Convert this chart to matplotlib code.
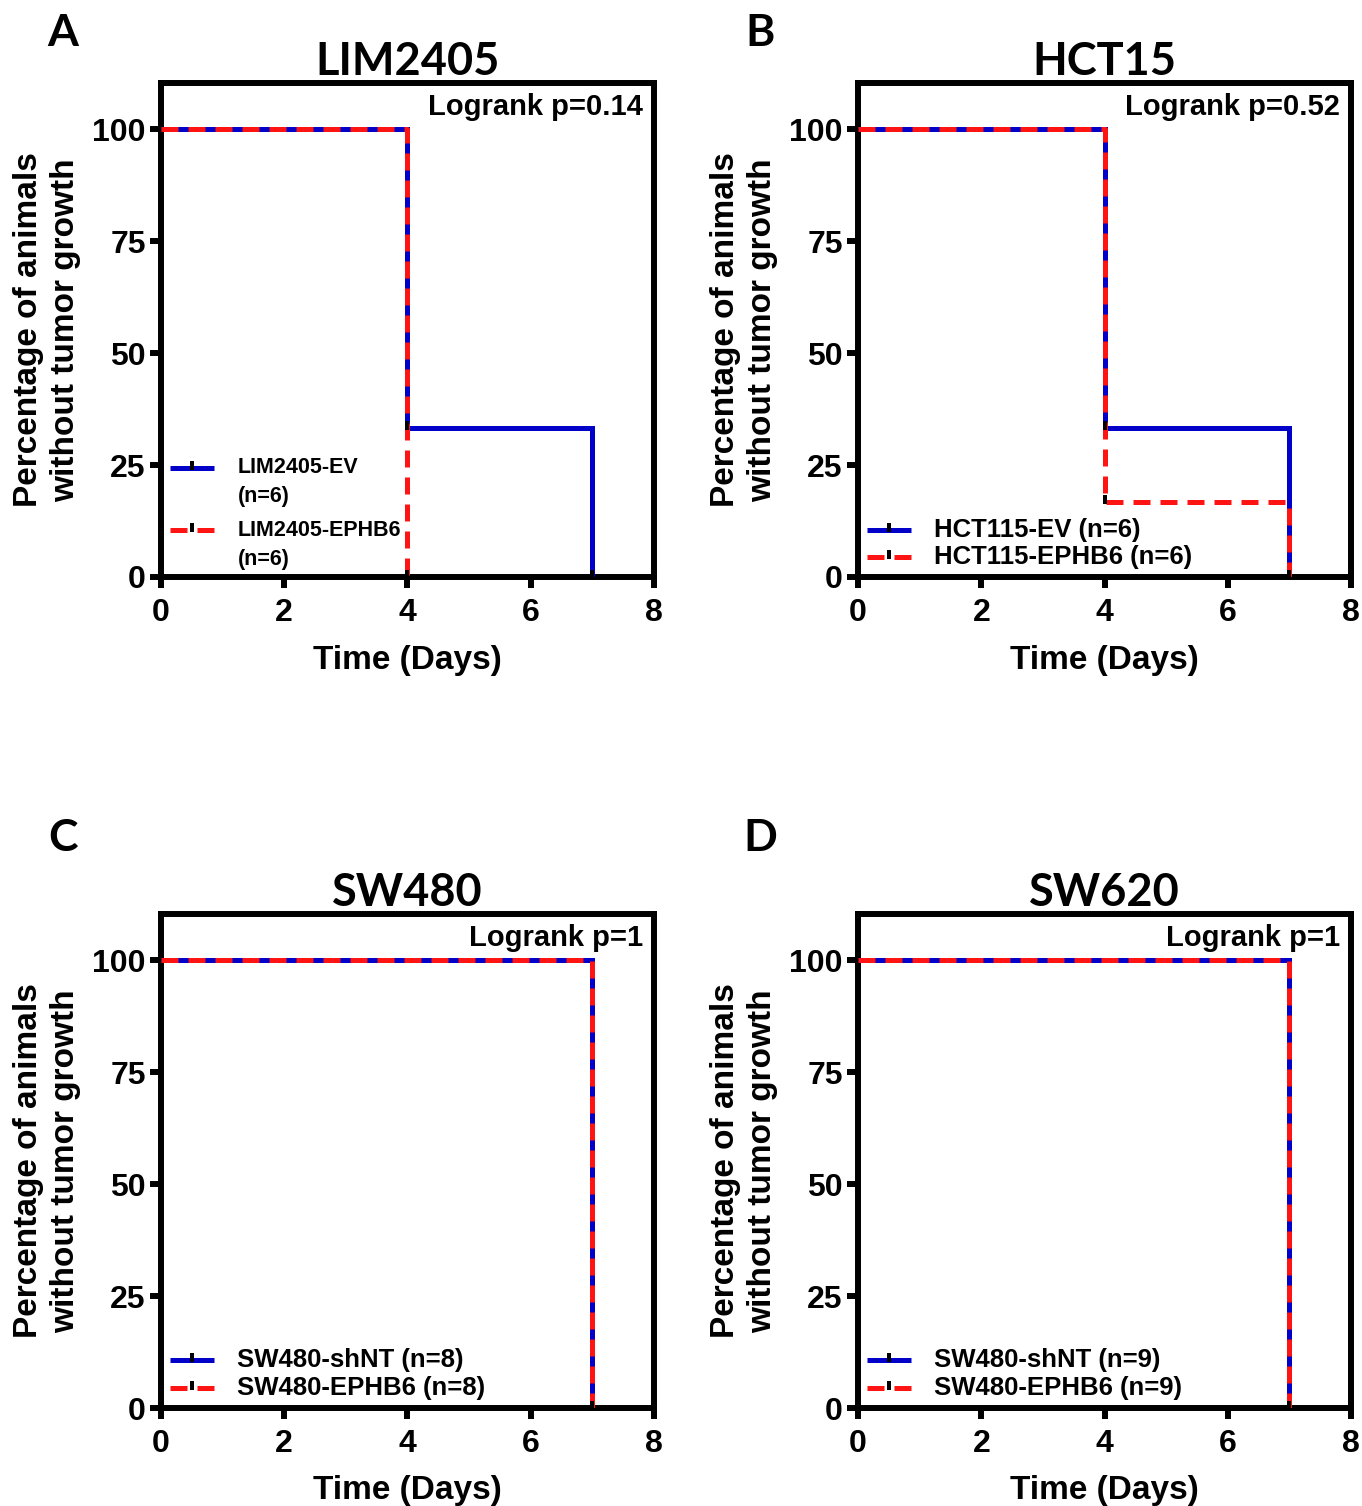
import numpy as np
import matplotlib
matplotlib.use("Agg")
import matplotlib.pyplot as plt
from matplotlib.path import Path

plt.rcParams['font.family'] = ['Liberation Sans', 'DejaVu Sans']
plt.rcParams['font.weight'] = 'bold'

# survival curves: event times (days) and % animals without tumor growth
panel_letters = ['A', 'B', 'C', 'D']
panel_titles = ['LIM2405', 'HCT15', 'SW480', 'SW620']
logrank_p = ['0.14', '0.52', '1', '1']

ctrl_labels = [['LIM2405-EV', '(n=6)'], ['HCT115-EV (n=6)'], ['SW480-shNT (n=8)'], ['SW480-shNT (n=9)']]
ephb6_labels = [['LIM2405-EPHB6', '(n=6)'], ['HCT115-EPHB6 (n=6)'], ['SW480-EPHB6 (n=8)'], ['SW480-EPHB6 (n=9)']]

ctrl_days = [[0, 4, 7], [0, 4, 7], [0, 7], [0, 7]]
ctrl_pct = [[100, 33.33, 0], [100, 33.33, 0], [100, 0], [100, 0]]
ephb6_days = [[0, 4], [0, 4, 7], [0, 7], [0, 7]]
ephb6_pct = [[100, 0], [100, 16.67, 0], [100, 0], [100, 0]]

xticks = [0, 2, 4, 6, 8]
yticks = [0, 25, 50, 75, 100]

W, H = 1362, 1506
fig = plt.figure(figsize=(W / 100, H / 100), dpi=100)

# axes boxes in pixels: left, top, right, bottom
boxes = [(161, 83, 654, 577), (858, 83, 1351, 577),
         (161, 914, 654, 1408), (858, 914, 1351, 1408)]
letter_pos = [(63, 33), (760, 33), (63, 838), (760, 838)]

blue = '#0000c8'
red = '#ff1414'

# censor tick: small block sitting on top of the curve
tick_mark = Path([(-0.35, -0.3), (0.35, -0.3), (0.35, 1.0), (-0.35, 1.0), (-0.35, -0.3)],
                 [Path.MOVETO, Path.LINETO, Path.LINETO, Path.LINETO, Path.CLOSEPOLY])
mk = dict(marker=tick_mark, ms=10, mec='black', mfc='black', mew=0)

# legend layout per panel (axes fraction): handle rows and font size
leg_rows = [(0.221, 0.095), (0.095, 0.040), (0.097, 0.040), (0.097, 0.040)]
leg_size = [15.5, 18.5, 18.5, 18.5]
leg_step = [0.059, 0, 0, 0]

for i in range(4):
    l, t, r, b = boxes[i]
    ax = fig.add_axes([l / W, 1 - b / H, (r - l) / W, (b - t) / H])

    ax.step(ctrl_days[i], ctrl_pct[i], where='post', color=blue, lw=3.6,
            solid_capstyle='butt', solid_joinstyle='miter', zorder=3)
    ax.step(ephb6_days[i], ephb6_pct[i], where='post', color=red, lw=3.6,
            dashes=(3.4, 2.0), dash_capstyle='butt', zorder=4)
    ax.plot(ctrl_days[i][1:], ctrl_pct[i][1:], ls='none', zorder=5, clip_on=False, **mk)
    ax.plot(ephb6_days[i][1:], ephb6_pct[i][1:], ls='none', zorder=5, clip_on=False, **mk)

    ax.set_xlim(0, 8)
    ax.set_ylim(0, 110.3)
    ax.set_xticks(xticks)
    ax.set_yticks(yticks)
    ax.tick_params(direction='out', length=8, width=4.3, labelsize=23)
    ax.tick_params(axis='x', pad=7)
    ax.tick_params(axis='y', pad=3)
    for lab in ax.get_xticklabels() + ax.get_yticklabels():
        lab.set_fontweight('bold')
    for sp in ax.spines.values():
        sp.set_linewidth(4.3)
        sp.set_color('black')

    ax.set_xlabel('Time (Days)', fontsize=24, fontweight='bold', labelpad=12)
    ax.text(-0.231, 0.5, 'Percentage of animals\nwithout tumor growth', transform=ax.transAxes,
            rotation=90, ha='center', va='center', fontsize=24, fontweight='bold',
            linespacing=1.28)
    ax.set_title(panel_titles[i], fontsize=32.5, fontweight='bold', family='Lato', pad=5)
    ax.text(0.978, 0.951, 'Logrank p=' + logrank_p[i], transform=ax.transAxes,
            ha='right', va='center', fontsize=21, fontweight='bold')
    lx, ly = letter_pos[i]
    fig.text(lx / W, 1 - ly / H, panel_letters[i], fontsize=32,
             fontweight='bold', family='Lato', ha='center', va='center')

    # legend drawn by hand so the handle lines up with the first label line
    for j, (labels, col) in enumerate([(ctrl_labels[i], blue), (ephb6_labels[i], red)]):
        y = leg_rows[i][j]
        if col == blue:
            ax.plot([0.018, 0.108], [y, y], transform=ax.transAxes, color=col, lw=3.6,
                    solid_capstyle='butt', clip_on=False)
        else:
            ax.plot([0.018, 0.108], [y, y], transform=ax.transAxes, color=col, lw=3.6,
                    dashes=(3.4, 2.0), dash_capstyle='butt', clip_on=False)
        ax.plot([0.063], [y], transform=ax.transAxes, ls='none', clip_on=False, **mk)
        for k, s in enumerate(labels):
            ax.text(0.155, y - k * leg_step[i], s, transform=ax.transAxes,
                    ha='left', va='center', fontsize=leg_size[i], fontweight='bold')

fig.savefig('out.png', dpi=100)
